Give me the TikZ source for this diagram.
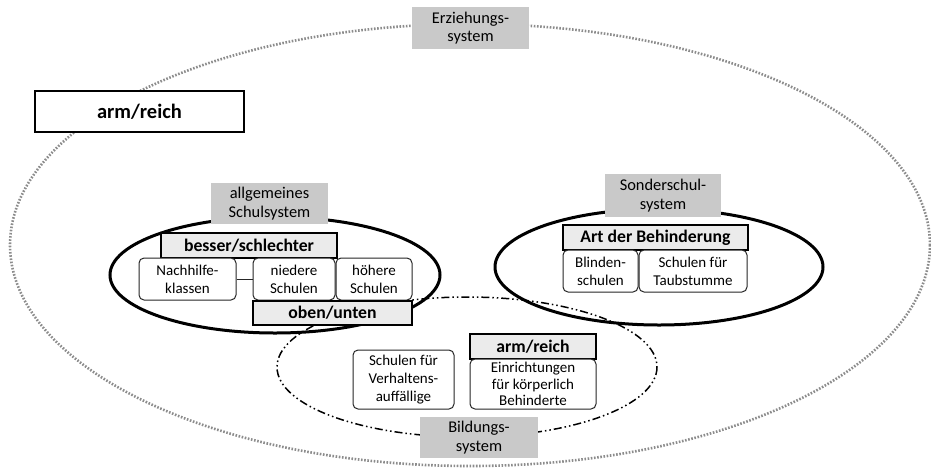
\documentclass[tikz,border=0pt]{standalone}
\usepackage{fontspec}
\setmainfont{Carlito}
\definecolor{boxgray}{HTML}{C9C9C9}
\definecolor{lablgray}{HTML}{EBEBEB}
\definecolor{dotgray}{HTML}{8C8C8C}
\tikzset{
  graybox/.style={fill=boxgray, draw=none, inner sep=0pt, align=center, font=\fontsize{16.4}{18.3}\selectfont},
  lablbox/.style={fill=lablgray, draw=black, line width=1.3pt, inner sep=0pt, font=\bfseries\fontsize{17.7}{20}\selectfont},
  smallbox/.style={fill=white, draw=black!85, line width=1pt, rounded corners=5pt, inner sep=0pt, align=center, font=\fontsize{15}{17.7}\selectfont},
  outerell/.style={draw=dotgray, line width=2.6pt, dash pattern=on 1.6pt off 1.6pt},
  solidell/.style={draw=black, line width=3pt},
  ddell/.style={draw=black, line width=1.5pt, dash pattern=on 8pt off 3pt on 1.5pt off 3pt on 1.5pt off 3pt},
}
\begin{document}
\begin{tikzpicture}[x=1pt,y=-1pt]
\useasboundingbox (0,0) rectangle (931,472);
% ellipses
\draw[outerell] (470,245) ellipse [x radius=460, y radius=221];
\draw[ddell] (467,367) ellipse [x radius=190, y radius=70];
\draw[solidell] (275,275) ellipse [x radius=165, y radius=58];
\draw[solidell] (659,267) ellipse [x radius=164, y radius=58];
% outer system
\node[graybox, minimum width=117pt, minimum height=42pt] (erz) at (470.5,28) {Erziehungs-\\system};
\node[fill=white, draw=black, line width=1.8pt, inner sep=0pt, minimum width=209pt, minimum height=41pt, font=\bfseries\fontsize{20.5}{24}\selectfont] (armtop) at (139.5,111.5) {arm/reich};
% allgemeines Schulsystem
\node[graybox, minimum width=117pt, minimum height=41pt] (allg) at (269.5,203.5) {allgemeines\\Schulsystem};
\node[lablbox, minimum width=176pt, minimum height=25pt] (besser) at (249,245.5) {besser/schlechter};
\node[smallbox, minimum width=97pt, minimum height=42pt] (nach) at (187.5,279) {Nachhilfe-\\klassen};
\node[smallbox, minimum width=82pt, minimum height=42pt] (nied) at (294,279) {niedere\\Schulen};
\node[smallbox, minimum width=76pt, minimum height=42pt] (hoeh) at (374,279) {höhere\\Schulen};
\node[lablbox, minimum width=159pt, minimum height=24pt] (oben) at (332.5,313) {oben/unten};
\draw[black!85, line width=1pt] (nach.east) -- (nied.west);
% Sonderschulsystem
\node[graybox, minimum width=116pt, minimum height=43pt] (sond) at (663,195.5) {Sonderschul-\\system};
\node[lablbox, minimum width=185pt, minimum height=25pt] (art) at (655.5,237.5) {Art der Behinderung};
\node[smallbox, minimum width=75pt, minimum height=42pt] (blind) at (600.5,271) {Blinden-\\schulen};
\node[smallbox, minimum width=108pt, minimum height=42pt] (taub) at (693,271) {Schulen für\\Taubstumme};
% Bildungssystem
\node[smallbox, minimum width=101pt, minimum height=59pt] (verh) at (403.5,379.5) {Schulen für\\Verhaltens-\\auffällige};
\node[lablbox, minimum width=126pt, minimum height=25pt] (armlow) at (533,346.5) {arm/reich};
\node[smallbox, minimum width=126pt, minimum height=50pt, font=\fontsize{15}{16.5}\selectfont] (einr) at (533,384) {Einrichtungen\\für körperlich\\Behinderte};
\node[graybox, minimum width=118pt, minimum height=41pt] (bild) at (479,437.5) {Bildungs-\\system};
\end{tikzpicture}
\end{document}
